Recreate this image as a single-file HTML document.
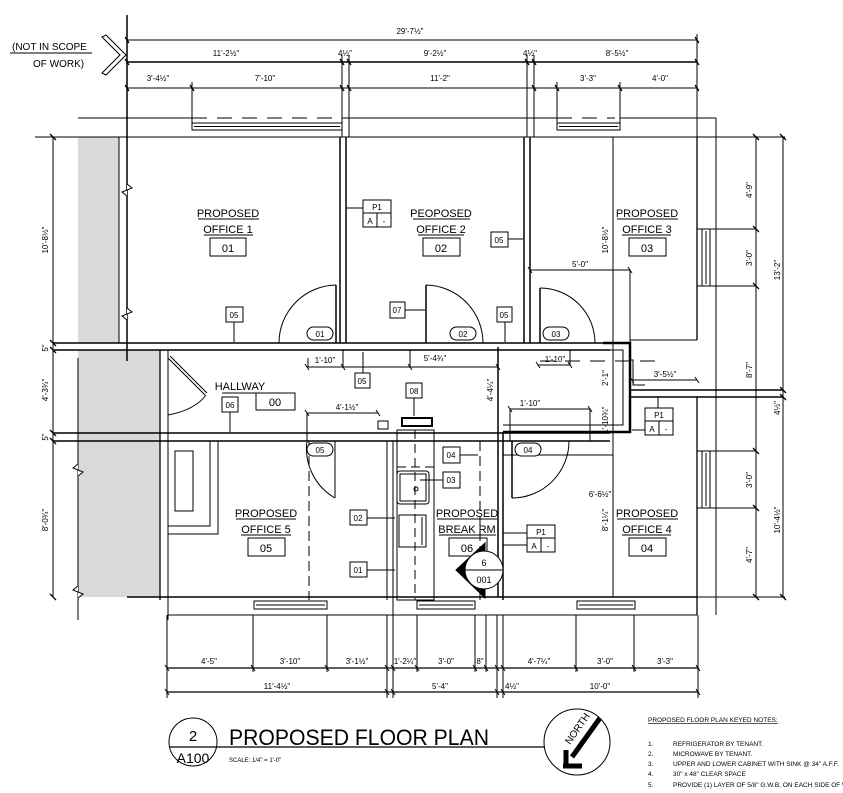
<!DOCTYPE html>
<html><head><meta charset="utf-8"><style>
html,body{margin:0;padding:0;background:#fff;width:843px;height:793px;overflow:hidden}
svg text{font-family:"Liberation Sans",sans-serif;fill:#000}
</style></head><body>
<svg width="843" height="793" viewBox="0 0 843 793" xmlns="http://www.w3.org/2000/svg">
<g stroke="#000" fill="none" stroke-width="1">
<rect x="78" y="137" width="41" height="206" fill="#d9d9d9" stroke="none"/>
<rect x="78" y="350" width="82" height="247" fill="#d9d9d9" stroke="none"/>
<line x1="127" y1="15" x2="127" y2="361" stroke-width="1.5"/>
<line x1="127" y1="40" x2="697" y2="40"/>
<line x1="127" y1="62" x2="697" y2="62" stroke-width="1.5"/>
<line x1="127" y1="88" x2="697" y2="88"/>
<line x1="342" y1="55" x2="342" y2="137"/><line x1="349" y1="55" x2="349" y2="137"/>
<line x1="527" y1="55" x2="527" y2="137"/><line x1="534" y1="55" x2="534" y2="137"/>
<line x1="697" y1="34" x2="697" y2="137"/>
<line x1="192" y1="82" x2="192" y2="130"/><line x1="557" y1="82" x2="557" y2="130"/><line x1="620" y1="82" x2="620" y2="130"/>
<path stroke-width="1.3" d="M125 37l4 6M695 37l4 6M125 59l4 6M340 59l4 6M347 59l4 6M525 59l4 6M532 59l4 6M695 59l4 6M125 85l4 6M190 85l4 6M340 85l4 6M347 85l4 6M532 85l4 6M555 85l4 6M618 85l4 6M695 85l4 6"/>
<line x1="10" y1="53" x2="92" y2="53"/>
<path d="M106 35l20 20 -20 20 -4 -2 18 -18 -18 -18z"/>
<path d="M78 118H192M192 118h15m10 0h15m10 0h15m10 0h15m10 0h15m10 0h15m10 0h15 M342 118H557 M557 118h15m10 0h15m10 0h8 M620 118H716"/>
<rect x="192" y="123" width="150" height="7"/><line x1="194" y1="126.5" x2="340" y2="126.5"/>
<rect x="557" y="123" width="63" height="7"/><line x1="559" y1="126.5" x2="618" y2="126.5"/>
<line x1="35" y1="137" x2="785" y2="137"/>
<line x1="53" y1="137" x2="53" y2="597"/>
<path d="M50 134l6 6M50 340l6 6M50 347l6 6M50 430l6 6M50 438l6 6M50 594l6 6" stroke-width="1.3"/>
<line x1="119" y1="137" x2="119" y2="343"/>
<path d="M127 184l5 4 -10 4 5 4M127 308l5 4 -10 4 5 4" fill="#fff"/>
<line x1="78" y1="358" x2="78" y2="620"/>
<path d="M78 464l-5 4 10 4 -5 4M78 586l-5 4 10 4 -5 4" fill="#fff"/>
<line x1="53" y1="343" x2="610" y2="343" stroke-width="1.5"/>
<line x1="53" y1="350" x2="610" y2="350" stroke-width="1.5"/>
<line x1="53" y1="433" x2="610" y2="433" stroke-width="1.5"/>
<line x1="53" y1="441" x2="610" y2="441" stroke-width="1.5"/>
<line x1="160" y1="350" x2="160" y2="600" stroke-width="1.3"/>
<line x1="168" y1="350" x2="168" y2="620"/>
<line x1="160" y1="343" x2="168" y2="343"/>
<path d="M168 358l37 37M170 356l37 37M168 415 Q195 410 206 395"/>
<path d="M160 360v8m0 6v8m0 6v8m0 6v8"/>
<line x1="340" y1="137" x2="340" y2="343" stroke-width="1.5"/>
<line x1="346" y1="137" x2="346" y2="343" stroke-width="1.5"/>
<line x1="524" y1="137" x2="524" y2="343" stroke-width="1.5"/>
<line x1="530" y1="137" x2="530" y2="343" stroke-width="1.5"/>
<line x1="697" y1="137" x2="697" y2="340" stroke-width="1.3"/>
<line x1="716" y1="118" x2="716" y2="615"/>
<line x1="697" y1="397" x2="697" y2="615" stroke-width="1.3"/>
<line x1="613" y1="137" x2="613" y2="597"/>
<line x1="336" y1="285" x2="336" y2="343" stroke-width="1.5"/><path d="M336 285 A58 58 0 0 0 279 343"/>
<line x1="426" y1="285" x2="426" y2="343" stroke-width="1.5"/><path d="M426 285 A58 58 0 0 1 483 343"/>
<line x1="540" y1="288" x2="540" y2="343" stroke-width="1.5"/><path d="M540 288 A55 55 0 0 1 595 343"/>
<path d="M530 270H630V340M630 340H697M630 340v20h3v25h12"/>
<path d="M528 267l4 6M628 267l4 6"/>
<path d="M540 361h15m10 0h15m10 0h15m10 0h15m10 0h15" />
<path d="M603 343H630V432H503" stroke-width="2.5"/>
<path d="M603 350H623V425H503"/>
<line x1="630" y1="390" x2="783" y2="390" stroke-width="1.5"/>
<line x1="630" y1="397" x2="783" y2="397" stroke-width="1.5"/>
<line x1="632" y1="380" x2="697" y2="380"/>
<path d="M630 377l4 6M695 377l4 6"/>
<line x1="756" y1="137" x2="756" y2="597"/>
<line x1="783" y1="137" x2="783" y2="597"/>
<path d="M697 229H756M697 286H756M697 451H756M697 508H756M697 597H785" />
<path d="M753 134l6 6M753 226l6 6M753 283l6 6M753 448l6 6M753 505l6 6M753 594l6 6M780 134l6 6M780 387l6 6M780 394l6 6M780 594l6 6" stroke-width="1.3"/>
<rect x="702" y="229" width="8" height="57"/><line x1="706" y1="231" x2="706" y2="284"/>
<rect x="702" y="451" width="8" height="57"/><line x1="706" y1="453" x2="706" y2="506"/>
<rect x="168" y="441" width="42" height="85"/><rect x="175" y="451" width="18" height="60"/>
<rect x="168" y="441" width="50" height="93"/>
<path d="M307 441A57 57 0 0 0 335 498M335 441v57"/>
<line x1="309" y1="441" x2="309" y2="600" stroke-dasharray="10,5"/>
<line x1="387" y1="441" x2="387" y2="600"/><line x1="393" y1="441" x2="393" y2="615"/>
<rect x="397" y="430" width="37" height="170"/>
<rect x="378" y="421" width="10" height="8"/><rect x="402" y="418" width="30" height="8" stroke-width="2"/>
<rect x="397" y="471" width="32" height="33" rx="3"/><rect x="400" y="474" width="26" height="27"/><circle cx="416" cy="489" r="2"/>
<rect x="399" y="515" width="27" height="32"/><line x1="422" y1="517" x2="422" y2="545"/>
<line x1="415" y1="430" x2="415" y2="600" stroke-dasharray="9,5"/>
<path d="M434 441h15m10 0h15m10 0h6M480 441V600" stroke-dasharray="10,5"/>
<line x1="397" y1="467" x2="434" y2="467" stroke-dasharray="9,5"/>
<line x1="498" y1="347" x2="498" y2="597" stroke-width="1.5"/>
<line x1="503" y1="432" x2="503" y2="600" stroke-width="1.5"/>
<line x1="512" y1="441" x2="512" y2="498" stroke-width="1.5"/>
<path d="M512 498A57 57 0 0 0 569 441"/>
<line x1="503" y1="533" x2="527" y2="533"/>
<line x1="503" y1="455" x2="613" y2="455"/>
<line x1="127" y1="597" x2="697" y2="597" stroke-width="1.5"/>
<line x1="168" y1="615" x2="697" y2="615"/>
<rect x="254" y="601" width="73" height="8"/><line x1="256" y1="605" x2="325" y2="605"/>
<rect x="417" y="601" width="58" height="8"/><line x1="419" y1="605" x2="473" y2="605"/>
<rect x="577" y="601" width="58" height="8"/><line x1="579" y1="605" x2="633" y2="605"/>
<path d="M167 615V698M253 615V672M327 615V672M387 615V698M393 615V698M417 615V672M475 615V672M486 615V672M497 615V698M503 615V698M576 615V672M634 615V672M698 615V698"/>
<line x1="167" y1="668" x2="698" y2="668" stroke-width="1.3"/>
<line x1="167" y1="692" x2="698" y2="692" stroke-width="1.3"/>
<path d="M165 665l4 6M251 665l4 6M325 665l4 6M385 665l4 6M391 665l4 6M415 665l4 6M473 665l4 6M484 665l4 6M495 665l4 6M501 665l4 6M574 665l4 6M632 665l4 6M696 665l4 6M165 689l4 6M385 689l4 6M391 689l4 6M495 689l4 6M501 689l4 6M696 689l4 6"/>
<path d="M307 367H498M343 367V350M308 367V358M410 367V350M305 364l4 6M341 364l4 6M408 364l4 6M496 364l4 6"/>
<path d="M307 413H378M305 410l4 6M376 410l4 6M307 413V441"/>
<path d="M510 409H590M508 406l4 6M588 406l4 6M510 409V441M590 409V441"/>
<path d="M538 365H570M536 362l4 6M568 362l4 6M570 365V350"/>
<path d="M234 322V342M402 310H425M505 322V342M508 239H523M363 208H346M363 373V352M230 412V432M414 398V416M460 455H478M443 480H420M367 518H395M367 570H395M527 545H503M658 408V397M645 430H632"/>
<rect x="226" y="307" width="17" height="15" fill="#fff"/><rect x="390" y="302" width="15" height="16" fill="#fff"/>
<rect x="497" y="307" width="15" height="15" fill="#fff"/><rect x="491" y="232" width="17" height="15" fill="#fff"/>
<rect x="355" y="373" width="15" height="15" fill="#fff"/><rect x="222" y="397" width="16" height="15" fill="#fff"/>
<rect x="406" y="383" width="16" height="15" fill="#fff"/><rect x="443" y="447" width="17" height="16" fill="#fff"/>
<rect x="443" y="472" width="17" height="16" fill="#fff"/><rect x="350" y="510" width="17" height="15" fill="#fff"/>
<rect x="350" y="562" width="17" height="15" fill="#fff"/>
<path d="M363 200h28v27h-28zM363 213h28M377 213v14" fill="#fff"/>
<path d="M527 525h28v27h-28zM527 538h28M541 538v14" fill="#fff"/>
<path d="M645 408h28v27h-28zM645 421h28M659 421v14" fill="#fff"/>
<rect x="307" y="327" width="26" height="13" rx="6.5" fill="#fff"/>
<rect x="450" y="327" width="26" height="13" rx="6.5" fill="#fff"/>
<rect x="543" y="327" width="26" height="13" rx="6.5" fill="#fff"/>
<rect x="307" y="443" width="26" height="13" rx="6.5" fill="#fff"/>
<rect x="515" y="443" width="26" height="13" rx="6.5" fill="#fff"/>
<rect x="210" y="238" width="36" height="18"/><rect x="423" y="238" width="37" height="18"/><rect x="629" y="238" width="37" height="18"/>
<rect x="256" y="393" width="39" height="17"/><rect x="248" y="538" width="37" height="18"/><rect x="449" y="538" width="38" height="18"/><rect x="629" y="538" width="37" height="18"/>
<path d="M198 219H259M204 235H253M413 219H470M418 235H464M617 219H678M622 235H671M222 393H258M236 519H296M241 535H291M437 519H497M439 535H496M617 519H678M622 535H671"/>
<path d="M485 543 L456 570 L485 598Z" fill="#000"/>
<circle cx="484" cy="570" r="19" fill="#fff"/><line x1="465" y1="570" x2="503" y2="570"/>
<circle cx="193" cy="742" r="24"/><line x1="169" y1="747" x2="545" y2="747" stroke-width="1.3"/>
<circle cx="577" cy="742" r="33"/>
<path d="M600 718 L572 757" stroke-width="5"/>
<path d="M566 766 L566 750 M563 766 L582 766" stroke-width="5"/>
</g>
<g font-size="8" text-anchor="middle">
<text x="410" y="34">29'-7½"</text>
<text x="226" y="56">11'-2½"</text><text x="345" y="56">4½"</text><text x="435" y="56">9'-2½"</text><text x="530" y="56">4½"</text><text x="617" y="56">8'-5½"</text>
<text x="158" y="81">3'-4½"</text><text x="265" y="81">7'-10"</text><text x="440" y="81">11'-2"</text><text x="588" y="81">3'-3"</text><text x="660" y="81">4'-0"</text>
<text x="209" y="664">4'-5"</text><text x="290" y="664">3'-10"</text><text x="357" y="664">3'-1½"</text><text x="405" y="664">1'-2¼"</text><text x="446" y="664">3'-0"</text><text x="480" y="664">8"</text><text x="539" y="664">4'-7¼"</text><text x="605" y="664">3'-0"</text><text x="665" y="664">3'-3"</text>
<text x="277" y="689">11'-4½"</text><text x="440" y="689">5'-4"</text><text x="512" y="689">4½"</text><text x="600" y="689">10'-0"</text>
<text x="325" y="363">1'-10"</text><text x="435" y="361">5'-4¾"</text><text x="555" y="362">1'-10"</text><text x="347" y="410">4'-1½"</text><text x="530" y="406">1'-10"</text><text x="665" y="377">3'-5½"</text><text x="600" y="497">6'-6½"</text><text x="580" y="267">5'-0"</text>
</g>
<g font-size="8" text-anchor="middle">
<text transform="translate(48,240) rotate(-90)">10'-8½"</text>
<text transform="translate(48,348) rotate(-90)">5"</text>
<text transform="translate(48,390) rotate(-90)">4'-3¾"</text>
<text transform="translate(48,437) rotate(-90)">5"</text>
<text transform="translate(48,520) rotate(-90)">8'-0¾"</text>
<text transform="translate(608,240) rotate(-90)">10'-8½"</text>
<text transform="translate(608,520) rotate(-90)">8'-1¼"</text>
<text transform="translate(752,190) rotate(-90)">4'-9"</text>
<text transform="translate(752,258) rotate(-90)">3'-0"</text>
<text transform="translate(752,370) rotate(-90)">8'-7"</text>
<text transform="translate(752,480) rotate(-90)">3'-0"</text>
<text transform="translate(752,555) rotate(-90)">4'-7"</text>
<text transform="translate(780,270) rotate(-90)">13'-2"</text>
<text transform="translate(780,520) rotate(-90)">10'-4½"</text>
<text transform="translate(780,408) rotate(-90)">4½"</text>
<text transform="translate(493,390) rotate(-90)">4'-4¼"</text>
<text transform="translate(608,378) rotate(-90)">2'-1"</text>
<text transform="translate(608,420) rotate(-90)">1'-10¾"</text>
</g>
<g font-size="11" text-anchor="middle">
<text x="228" y="217">PROPOSED</text><text x="228" y="233">OFFICE 1</text><text x="228" y="252">01</text>
<text x="441" y="217">PEOPOSED</text><text x="441" y="233">OFFICE 2</text><text x="441" y="252">02</text>
<text x="647" y="217">PROPOSED</text><text x="647" y="233">OFFICE 3</text><text x="647" y="252">03</text>
<text x="240" y="390">HALLWAY</text><text x="275" y="406">00</text>
<text x="266" y="517">PROPOSED</text><text x="266" y="533">OFFICE 5</text><text x="266" y="552">05</text>
<text x="467" y="517">PROPOSED</text><text x="467" y="533">BREAK RM</text><text x="467" y="552">06</text>
<text x="647" y="517">PROPOSED</text><text x="647" y="533">OFFICE 4</text><text x="647" y="552">04</text>
</g>
<g font-size="8" text-anchor="middle">
<text x="234" y="318">05</text><text x="397" y="313">07</text><text x="504" y="318">05</text><text x="499" y="243">05</text>
<text x="362" y="384">05</text><text x="230" y="408">06</text><text x="414" y="394">08</text><text x="451" y="458">04</text><text x="451" y="483">03</text><text x="358" y="521">02</text><text x="358" y="573">01</text>
<text x="377" y="210">P1</text><text x="370" y="224">A</text><text x="384" y="224">-</text>
<text x="541" y="535">P1</text><text x="534" y="549">A</text><text x="548" y="549">-</text>
<text x="659" y="418">P1</text><text x="652" y="432">A</text><text x="666" y="432">-</text>
<text x="320" y="337">01</text><text x="463" y="337">02</text><text x="556" y="337">03</text><text x="320" y="453">05</text><text x="528" y="453">04</text>
<text x="484" y="566" font-size="9">6</text><text x="484" y="583" font-size="9">001</text>
</g>
<text x="12" y="50" font-size="10">(NOT IN SCOPE</text>
<text x="33" y="67" font-size="10">OF WORK)</text>
<text x="193" y="741" font-size="15" text-anchor="middle">2</text>
<text x="193" y="763" font-size="14" text-anchor="middle">A100</text>
<text x="229" y="745" font-size="22" textLength="260" lengthAdjust="spacingAndGlyphs">PROPOSED FLOOR PLAN</text>
<text x="229" y="762" font-size="6">SCALE: 1/4" = 1'-0"</text>
<text transform="translate(570,745) rotate(-55)" font-size="10">NORTH</text>
<g font-size="6.5">
<text x="648" y="722" text-decoration="underline">PROPOSED FLOOR PLAN KEYED NOTES:</text>
<text x="648" y="746">1.</text><text x="673" y="746">REFRIGERATOR BY TENANT.</text>
<text x="648" y="756">2.</text><text x="673" y="756">MICROWAVE BY TENANT.</text>
<text x="648" y="766">3.</text><text x="673" y="766">UPPER AND LOWER CABINET WITH SINK @ 34" A.F.F.</text>
<text x="648" y="776">4.</text><text x="673" y="776">30" x 48" CLEAR SPACE</text>
<text x="648" y="787">5.</text><text x="673" y="787">PROVIDE (1) LAYER OF 5/8" G.W.B. ON EACH SIDE OF WALL</text>
</g>
</svg>
</body></html>
